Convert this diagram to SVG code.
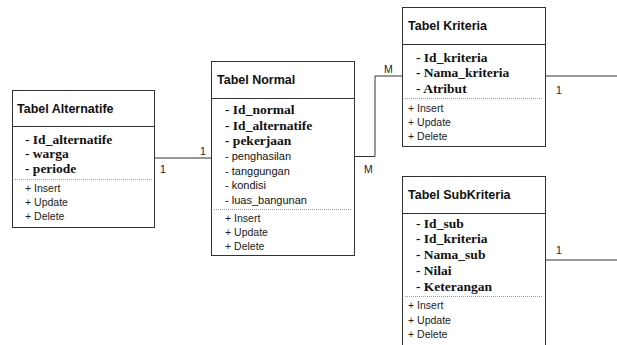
<svg xmlns="http://www.w3.org/2000/svg" width="617" height="345" viewBox="0 0 617 345">
<style>
.box{fill:#fff;stroke:#333;stroke-width:1}
.sep{stroke:#333;stroke-width:1}
.dot{stroke:#999;stroke-width:1;stroke-dasharray:1,1}
.title{font-family:"Liberation Sans",Arial,sans-serif;font-weight:bold;font-size:12.5px;fill:#111}
.attr{font-family:"Liberation Serif","Times New Roman",serif;font-weight:bold;font-size:13.5px;fill:#111}
.attrs{font-family:"Liberation Sans",Arial,sans-serif;font-size:11px;fill:#111}
.meth{font-family:"Liberation Sans",Arial,sans-serif;font-size:10.5px;fill:#222}
.lbl{font-family:"Liberation Sans",Arial,sans-serif;font-size:10.5px;fill:#222}
.conn{fill:none;stroke:#333;stroke-width:1}
</style>
<rect width="617" height="345" fill="#fff"/>
<g id="connectors">
<polyline class="conn" points="154.5,158 211.5,158"/>
<polyline class="conn" points="354.5,156.5 375,156.5 375,76 402.5,76"/>
<polyline class="conn" points="545.5,76 617,76"/>
<polyline class="conn" points="545.5,260 617,260"/>
<text class="lbl" x="160" y="173">1</text>
<text class="lbl" x="200" y="155">1</text>
<text class="lbl" x="364" y="173">M</text>
<text class="lbl" x="384" y="73">M</text>
<text class="lbl" x="556" y="94">1</text>
<text class="lbl" x="556" y="254">1</text>
</g>
<g id="tabel-alternatife">
<rect class="box" x="12.5" y="90.5" width="142" height="137"/>
<line class="sep" x1="12.5" y1="126.5" x2="154.5" y2="126.5"/>
<text class="title" x="17" y="113">Tabel Alternatife</text>
<text class="attr" x="25" y="144">- Id_alternatife</text>
<text class="attr" x="25" y="158">- warga</text>
<text class="attr" x="25" y="173">- periode</text>
<line class="dot" x1="15" y1="179.5" x2="152" y2="179.5"/>
<text class="meth" x="25" y="192">+ Insert</text>
<text class="meth" x="25" y="206">+ Update</text>
<text class="meth" x="25" y="220">+ Delete</text>
</g>
<g id="tabel-normal">
<rect class="box" x="211.5" y="61.5" width="143" height="194"/>
<line class="sep" x1="211.5" y1="98.5" x2="354.5" y2="98.5"/>
<text class="title" x="217" y="84">Tabel Normal</text>
<text class="attr" x="225" y="114">- Id_normal</text>
<text class="attr" x="225" y="130">- Id_alternatife</text>
<text class="attr" x="225" y="145">- pekerjaan</text>
<text class="attrs" x="225" y="160">- penghasilan</text>
<text class="attrs" x="225" y="175">- tanggungan</text>
<text class="attrs" x="225" y="189">- kondisi</text>
<text class="attrs" x="225" y="204">- luas_bangunan</text>
<line class="dot" x1="214" y1="209.5" x2="352" y2="209.5"/>
<text class="meth" x="225" y="222">+ Insert</text>
<text class="meth" x="225" y="236">+ Update</text>
<text class="meth" x="225" y="250">+ Delete</text>
</g>
<g id="tabel-kriteria">
<rect class="box" x="402.5" y="7.5" width="143" height="139"/>
<line class="sep" x1="402.5" y1="44.5" x2="545.5" y2="44.5"/>
<text class="title" x="408" y="30">Tabel Kriteria</text>
<text class="attr" x="416" y="62">- Id_kriteria</text>
<text class="attr" x="416" y="77">- Nama_kriteria</text>
<text class="attr" x="416" y="93">- Atribut</text>
<line class="dot" x1="405" y1="98.5" x2="543" y2="98.5"/>
<text class="meth" x="408" y="112">+ Insert</text>
<text class="meth" x="408" y="126">+ Update</text>
<text class="meth" x="408" y="140">+ Delete</text>
</g>
<g id="tabel-subkriteria">
<rect class="box" x="402.5" y="176.5" width="143" height="170"/>
<line class="sep" x1="402.5" y1="213.5" x2="545.5" y2="213.5"/>
<text class="title" x="408" y="199">Tabel SubKriteria</text>
<text class="attr" x="416" y="228">- Id_sub</text>
<text class="attr" x="416" y="243">- Id_kriteria</text>
<text class="attr" x="416" y="259">- Nama_sub</text>
<text class="attr" x="416" y="275">- Nilai</text>
<text class="attr" x="416" y="291">- Keterangan</text>
<line class="dot" x1="405" y1="296.5" x2="543" y2="296.5"/>
<text class="meth" x="408" y="309">+ Insert</text>
<text class="meth" x="408" y="324">+ Update</text>
<text class="meth" x="408" y="338">+ Delete</text>
</g>
</svg>
